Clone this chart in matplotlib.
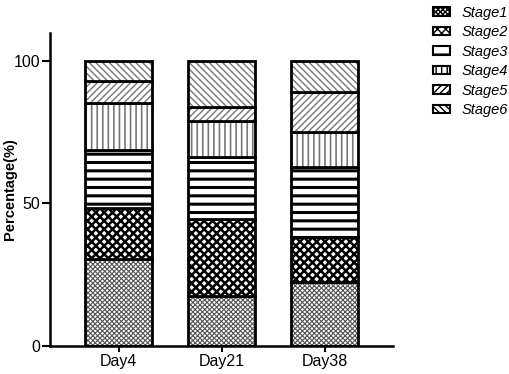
import numpy as np
import matplotlib.pyplot as plt
from matplotlib.patches import Patch

plt.rcParams['font.family'] = ['Liberation Sans', 'DejaVu Sans']

days = ['Day4', 'Day21', 'Day38']
stage_names = ['Stage1', 'Stage2', 'Stage3', 'Stage4', 'Stage5', 'Stage6']
stage1 = [30.5, 17.5, 22.6]
stage2 = [17.9, 27.0, 15.5]
stage3 = [20.4, 21.9, 24.8]
stage4 = [16.5, 12.6, 12.3]
stage5 = [7.7, 4.7, 14.0]
stage6 = [7.0, 16.3, 10.8]

stages = [stage1, stage2, stage3, stage4, stage5, stage6]
hatches = ['xxxxxxx', 'xxxx', '--', '|||', '/////', '\\\\\\\\\\']
hcolors = ['#555555', 'black', 'black', '#777777', '#777777', '#777777']
hwidths = [0.8, 1.8, 2.2, 1.2, 1.0, 1.0]

fig = plt.figure(figsize=(5.1, 3.74), dpi=100)
ax = fig.add_axes([0.098, 0.075, 0.673, 0.838])

x = np.arange(len(days))
width = 0.65
bottom = np.zeros(len(days))
for vals, h, hc, hw in zip(stages, hatches, hcolors, hwidths):
    plt.rcParams['hatch.linewidth'] = hw
    bars = ax.bar(x, vals, width, bottom=bottom, color='white',
                  edgecolor=hc, hatch=h, linewidth=0)
    if hasattr(bars[0], 'set_hatch_linewidth'):
        for b in bars:
            b.set_hatch_linewidth(hw)
    ax.bar(x, vals, width, bottom=bottom, fill=False,
           edgecolor='black', linewidth=2)
    bottom += np.array(vals)

ax.set_xlim(-0.665, 2.665)
ax.set_ylim(0, 110)
ax.set_yticks([0, 50, 100])
ax.set_xticks(x)
ax.set_xticklabels(days)
ax.tick_params(axis='y', labelsize=11.5, width=1.5, length=6, pad=1)
ax.tick_params(axis='x', labelsize=11.5, width=1.5, length=4, pad=2)
ax.set_ylabel('Percentage(%)', fontsize=10.5, fontweight='bold')
ax.yaxis.set_label_coords(-0.095, 0.5)
for s in ['top', 'right']:
    ax.spines[s].set_visible(False)
for s in ['left', 'bottom']:
    ax.spines[s].set_linewidth(1.8)

handles = [Patch(facecolor='white', edgecolor='black', hatch=h, linewidth=1.5)
           for h in hatches]
fig.legend(handles, stage_names, loc='upper left', bbox_to_anchor=(0.849, 0.985),
           frameon=False, prop={'style': 'italic', 'size': 10.5},
           handlelength=1.17, handleheight=0.5, labelspacing=0.38,
           handletextpad=0.8, borderpad=0, borderaxespad=0)

fig.savefig('out.png', dpi=100)
